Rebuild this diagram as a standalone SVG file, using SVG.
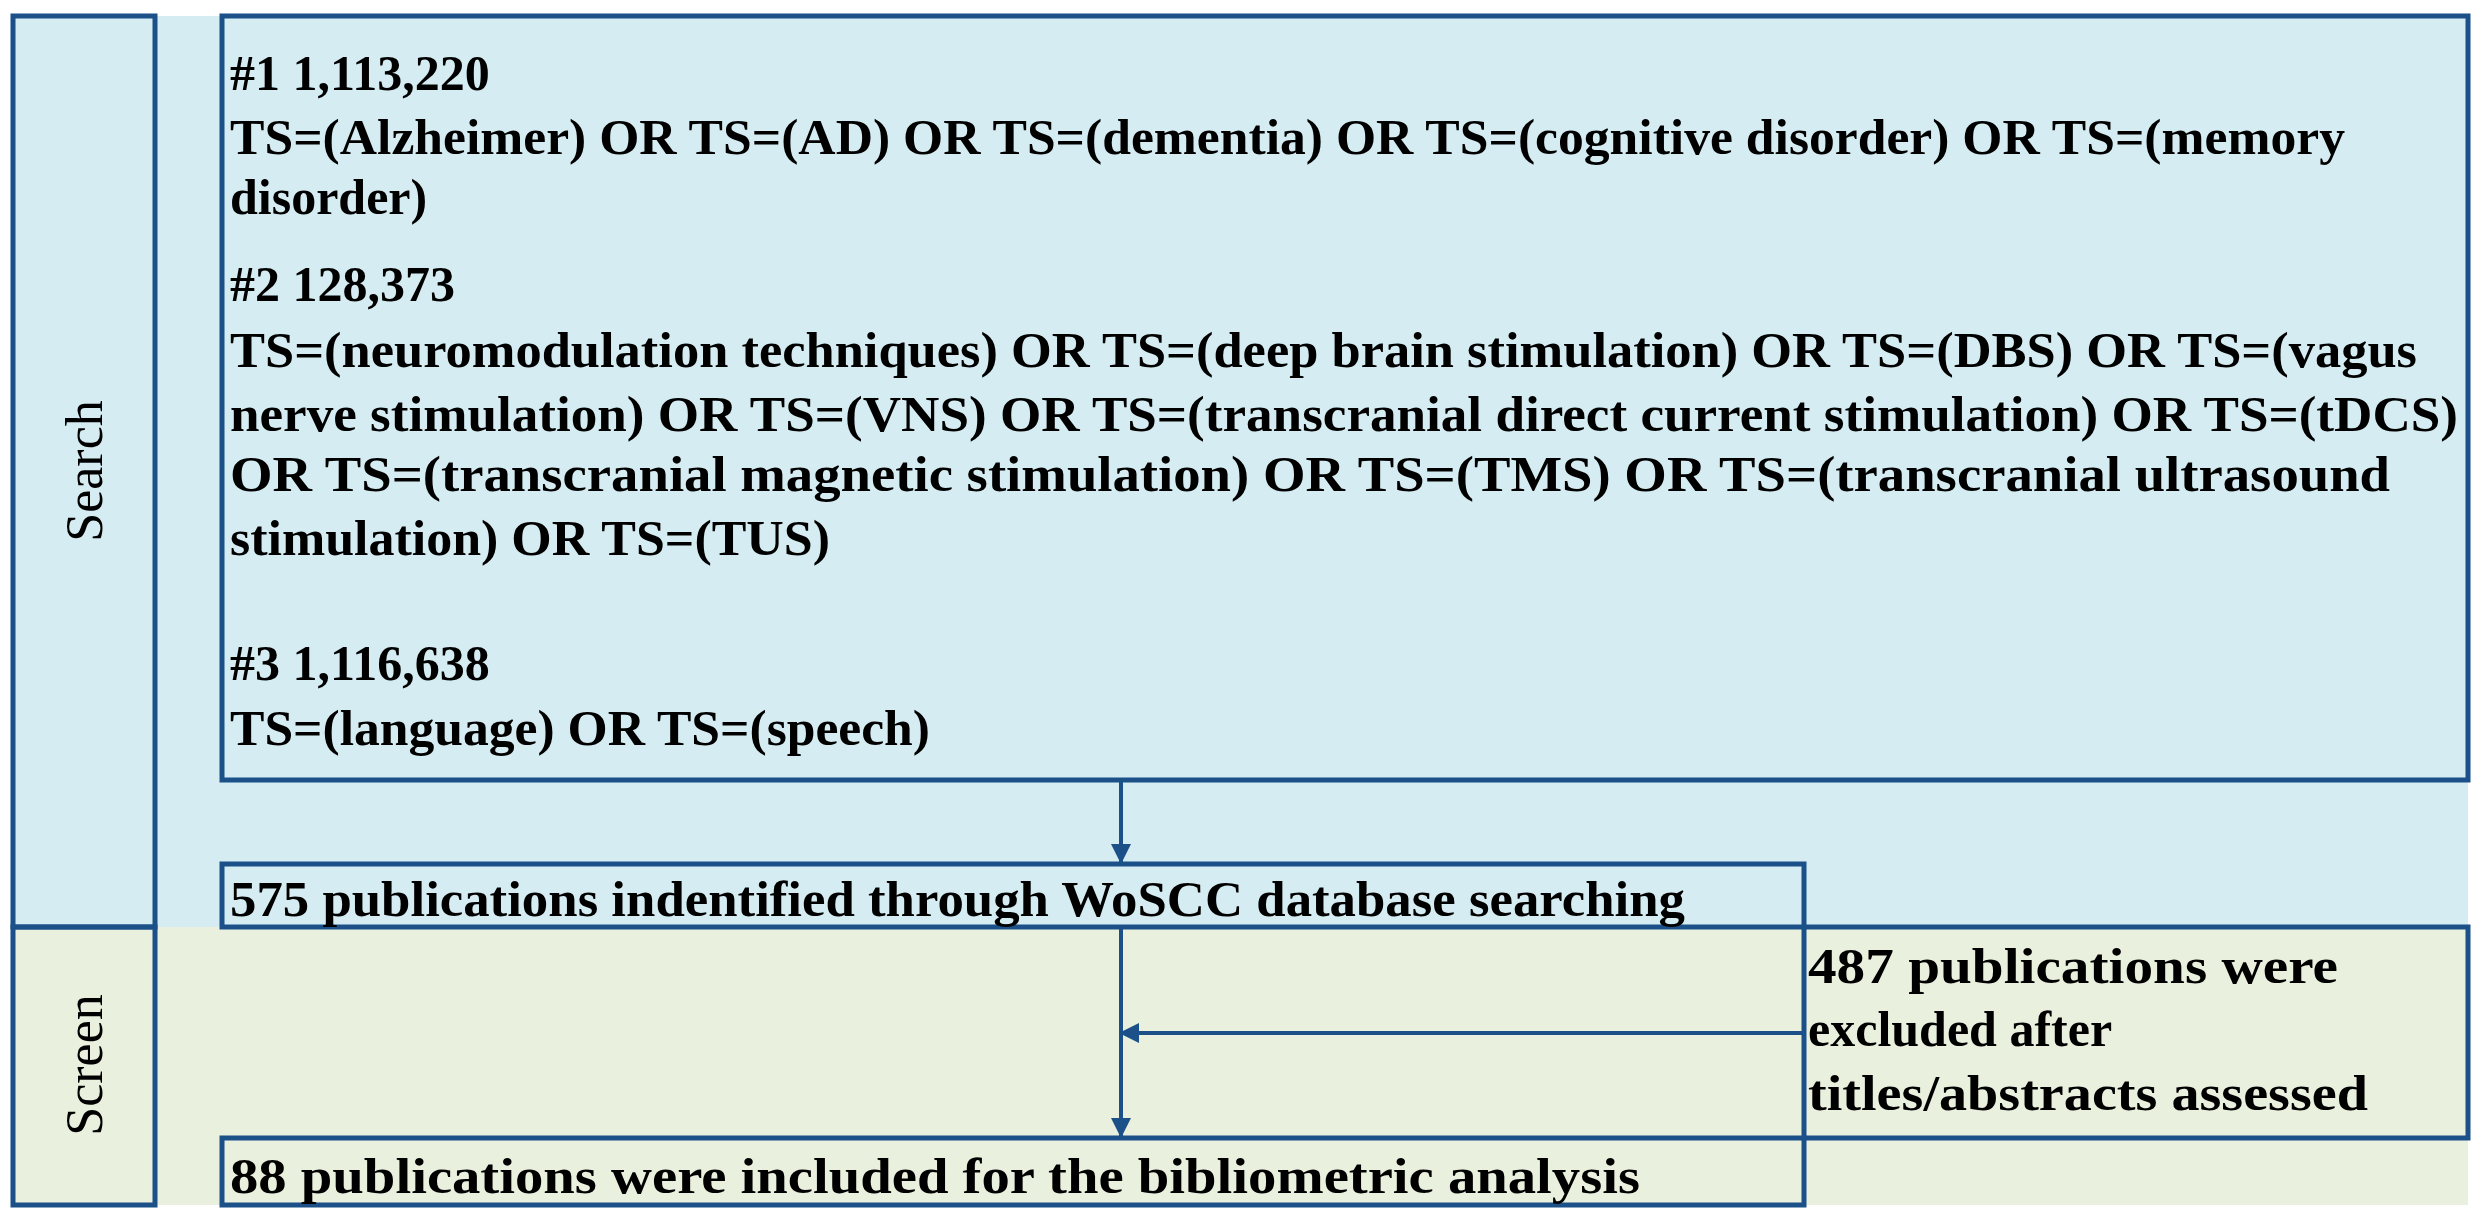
<svg xmlns="http://www.w3.org/2000/svg" width="2485" height="1214" viewBox="0 0 2485 1214">
<style>
.b{fill:none;stroke:#1b5088;stroke-width:5}
.t{font-family:"Liberation Serif",serif;font-weight:bold;font-size:50px;fill:#000}
.l{font-family:"Liberation Serif",serif;font-size:52px;fill:#000}
.c{stroke:#1b5088;stroke-width:4;fill:none;marker-end:url(#a2)}
</style>
<defs><marker id="a2" markerWidth="20" markerHeight="20" refX="18" refY="10" orient="auto" markerUnits="userSpaceOnUse" viewBox="0 0 20 20"><path d="M0,0 L20,10 L0,20z" fill="#1b5088"/></marker></defs>
<rect x="13" y="16" width="2455" height="911" fill="#d5edf2"/>
<rect x="13" y="927" width="2455" height="278" fill="#eaf0de"/>
<g id="search-label"><rect class="b" x="13" y="16" width="142" height="911"/><text class="l" transform="translate(102,471) rotate(-90)" text-anchor="middle">Search</text></g>
<g id="screen-label"><rect class="b" x="13" y="927" width="142" height="278"/><text class="l" transform="translate(102,1065) rotate(-90)" text-anchor="middle">Screen</text></g>
<g id="search">
<rect class="b" x="222" y="16" width="2246" height="764"/>
<text class="t" x="230" y="90">#1 1,113,220</text>
<text class="t" x="230" y="154" textLength="2115" lengthAdjust="spacingAndGlyphs">TS=(Alzheimer) OR TS=(AD) OR TS=(dementia) OR TS=(cognitive disorder) OR TS=(memory</text>
<text class="t" x="230" y="214">disorder)</text>
<text class="t" x="230" y="301">#2 128,373</text>
<text class="t" x="230" y="367" textLength="2187" lengthAdjust="spacingAndGlyphs">TS=(neuromodulation techniques) OR TS=(deep brain stimulation) OR TS=(DBS) OR TS=(vagus</text>
<text class="t" x="230" y="431" textLength="2228" lengthAdjust="spacingAndGlyphs">nerve stimulation) OR TS=(VNS) OR TS=(transcranial direct current stimulation) OR TS=(tDCS)</text>
<text class="t" x="230" y="491" textLength="2160" lengthAdjust="spacingAndGlyphs">OR TS=(transcranial magnetic stimulation) OR TS=(TMS) OR TS=(transcranial ultrasound</text>
<text class="t" x="230" y="555" textLength="600" lengthAdjust="spacingAndGlyphs">stimulation) OR TS=(TUS)</text>
<text class="t" x="230" y="680">#3 1,116,638</text>
<text class="t" x="230" y="745" textLength="700" lengthAdjust="spacingAndGlyphs">TS=(language) OR TS=(speech)</text>
</g>
<g id="identified"><rect class="b" x="222" y="864" width="1582" height="63"/><text class="t" x="230" y="916" textLength="1455" lengthAdjust="spacingAndGlyphs">575 publications indentified through WoSCC database searching</text></g>
<g id="excluded"><rect class="b" x="1804" y="927" width="664" height="211"/>
<text class="t" x="1808" y="983" textLength="530" lengthAdjust="spacingAndGlyphs">487 publications were</text>
<text class="t" x="1808" y="1046">excluded after</text>
<text class="t" x="1808" y="1110" textLength="560" lengthAdjust="spacingAndGlyphs">titles/abstracts assessed</text></g>
<g id="included"><rect class="b" x="222" y="1138" width="1582" height="67"/><text class="t" x="230" y="1193" textLength="1410" lengthAdjust="spacingAndGlyphs">88 publications were included for the bibliometric analysis</text></g>
<g id="connectors">
<line class="c" x1="1121" y1="780" x2="1121" y2="862"/>
<line class="c" x1="1121" y1="927" x2="1121" y2="1136"/>
<line class="c" x1="1804" y1="1033" x2="1121" y2="1033"/>
</g>
</svg>
